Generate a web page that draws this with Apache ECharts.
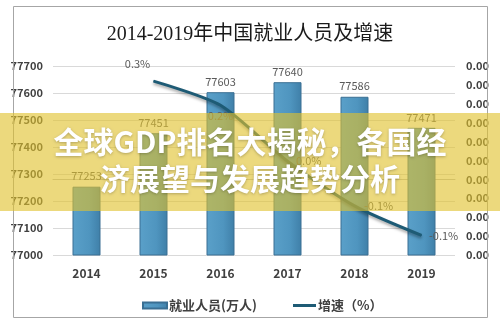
<!DOCTYPE html>
<html>
<head>
<meta charset="utf-8">
<script src="https://cdn.jsdelivr.net/npm/echarts@6/dist/echarts.min.js"></script>
<style>
html,body{margin:0;padding:0;background:#fff;}
#main{width:500px;height:325px;}
</style>
</head>
<body>
<div id="main"></div>
<script>
var years = ['2014', '2015', '2016', '2017', '2018', '2019'];
var employed = [77253, 77451, 77603, 77640, 77586, 77471];
var growth = [null, 0.26, 0.196, 0.048, -0.070, -0.148];
var titleText = '2014-2019年中国就业人员及增速';
var barName = '就业人员(万人)';
var lineName = '增速（%）';
var bannerLines = ['全球GDP排名大揭秘，各国经', '济展望与发展趋势分析'];

var labelPos = [null,
  {position: 'top', offset: [-16, -6]},
  {position: 'bottom', offset: [0, 0]},
  {position: 'right', offset: [3, 0]},
  {position: 'right', offset: [4, 0]},
  {position: 'right', offset: [2, 0]}
];

var lineData = growth.map(function (v, i) {
  if (v === null) return null;
  return {value: v, label: labelPos[i]};
});

var chart = echarts.init(document.getElementById('main'), null, {renderer: 'canvas'});
var sans = "'Noto Sans CJK SC', 'Noto Sans', sans-serif";
var legendText = {fontFamily: sans, fontSize: 13, fontWeight: 'bold', color: '#404040', padding: [0, 0, 0, -3]};
chart.setOption({
  animation: false,
  backgroundColor: '#fff',
  title: {
    text: titleText,
    left: 'center',
    top: 20,
    textStyle: {fontFamily: "'Liberation Serif', 'Noto Sans CJK SC', serif", fontSize: 20, fontWeight: 'normal', color: '#1a1a1a'}
  },
  legend: [{
    left: 137,
    top: 294,
    itemWidth: 24,
    itemHeight: 6,
    textStyle: legendText,
    data: [{name: barName, icon: 'rect'}]
  }, {
    left: 288,
    top: 294,
    itemWidth: 23,
    itemHeight: 3,
    textStyle: legendText,
    data: [{name: lineName, icon: 'rect'}]
  }],
  grid: {left: 53, right: 45, top: 66, bottom: 70},
  xAxis: {
    type: 'category',
    data: years,
    axisLine: {lineStyle: {color: '#bfbfbf'}},
    axisTick: {show: false},
    axisLabel: {fontFamily: sans, fontSize: 12, fontWeight: 'bold', color: '#404040', margin: 12}
  },
  yAxis: [{
    type: 'value',
    min: 77000, max: 77700, interval: 100,
    axisLine: {show: false},
    axisTick: {show: false},
    splitLine: {lineStyle: {color: '#d9d9d9'}},
    axisLabel: {
      fontFamily: sans, fontSize: 11, fontWeight: 'bold', color: '#404040', margin: 10,
      formatter: function (v) { return String(v); }
    }
  }, {
    type: 'value',
    min: -0.2, max: 0.3, interval: 0.05,
    axisLine: {show: false},
    axisTick: {show: false},
    splitLine: {show: false},
    axisLabel: {
      fontFamily: sans, fontSize: 11, fontWeight: 'bold', color: '#404040', margin: 11,
      formatter: function (v) { return (Math.abs(v) / 100).toFixed(2); }
    }
  }],
  series: [{
    name: barName,
    type: 'bar',
    data: employed,
    barWidth: 28,
    itemStyle: {
      color: new echarts.graphic.LinearGradient(0, 0, 1, 0, [
        {offset: 0, color: '#5aa0c9'},
        {offset: 0.6, color: '#4f95bf'},
        {offset: 1, color: '#3f7fa8'}
      ]),
      borderColor: '#3a6f93',
      borderWidth: 1
    },
    label: {show: true, position: 'top', distance: 5, fontFamily: sans, fontSize: 11, color: '#595959'}
  }, {
    name: lineName,
    type: 'line',
    yAxisIndex: 1,
    data: lineData,
    smooth: 0.25,
    symbol: 'circle',
    symbolSize: 1,
    showSymbol: true,
    connectNulls: false,
    z: 5,
    lineStyle: {color: '#1e5b75', width: 3, shadowColor: 'rgba(0,0,0,0.35)', shadowBlur: 3, shadowOffsetY: 2},
    itemStyle: {color: '#1e5b75'},
    label: {
      show: true, fontFamily: sans, fontSize: 11, color: '#595959',
      formatter: function (p) { return p.value.toFixed(1) + '%'; }
    }
  }],
  graphic: [{
    type: 'rect',
    shape: {x: 13.5, y: 6.5, width: 474, height: 311},
    style: {fill: 'none', stroke: '#a6a6a6', lineWidth: 1},
    z: 1, silent: true
  }, {
    type: 'rect',
    shape: {x: 0, y: 113, width: 500, height: 98},
    style: {fill: 'rgba(225,193,45,0.62)'},
    z: 100, silent: true
  }, {
    type: 'text',
    x: 250, y: 142,
    style: {
      text: bannerLines[0], fill: '#fff', font: 'bold 30px ' + sans,
      textAlign: 'center', textVerticalAlign: 'middle',
      textShadowColor: 'rgba(0,0,0,0.25)', textShadowBlur: 3, textShadowOffsetY: 1
    },
    z: 101, silent: true
  }, {
    type: 'text',
    x: 250, y: 179,
    style: {
      text: bannerLines[1], fill: '#fff', font: 'bold 30px ' + sans,
      textAlign: 'center', textVerticalAlign: 'middle',
      textShadowColor: 'rgba(0,0,0,0.25)', textShadowBlur: 3, textShadowOffsetY: 1
    },
    z: 101, silent: true
  }]
});
</script>
</body>
</html>
